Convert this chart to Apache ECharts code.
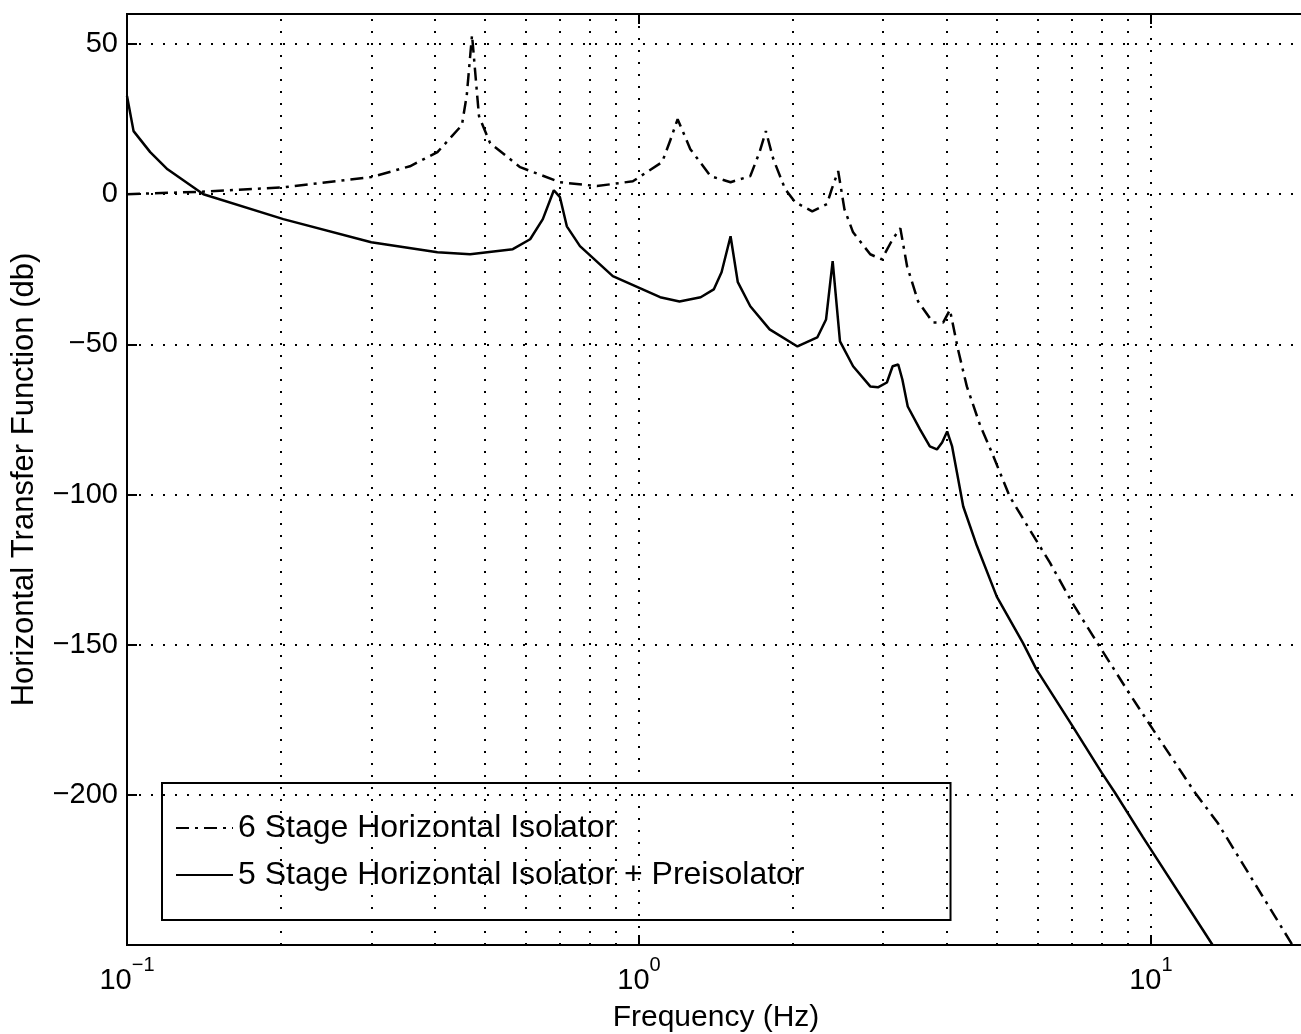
<!DOCTYPE html>
<html>
<head>
<meta charset="utf-8">
<title>Horizontal Transfer Function</title>
<script src="https://cdn.jsdelivr.net/npm/echarts@6/dist/echarts.min.js"></script>
<style>
html, body { margin: 0; padding: 0; background: #fff; overflow: hidden; }
#main { width: 1306px; height: 1034px; }
</style>
</head>
<body>
<div id="main"></div>
<script>
// 6 stage horizontal isolator (dash-dot)
var freq6 = [0.1, 0.139, 0.202, 0.3, 0.357, 0.404, 0.451, 0.461, 0.472, 0.487, 0.512, 0.586, 0.701, 0.828, 0.973,
	1.11, 1.15, 1.19, 1.26, 1.38, 1.51, 1.65, 1.72, 1.77, 1.83, 1.93, 2.02, 2.18, 2.33, 2.38, 2.45, 2.52, 2.62, 2.83,
	2.98, 3.13, 3.24, 3.34, 3.51, 3.75, 3.93, 4.05, 4.2, 4.37, 4.64, 4.89, 5.3, 5.75, 6.35, 7.02, 7.85, 8.98, 10.1,
	12.2, 13.5, 18.9];
var db6 = [0, 0.8, 2.3, 5.7, 9.3, 14, 23, 33, 53, 26, 17, 9, 4, 2.7, 4.3,
	10.7, 17.7, 25, 15, 6, 4, 6, 14, 21, 11.7, 1.7, -2.7, -5.7, -3.3, 1.7, 7.7, -5, -12.7, -20,
	-21.7, -15, -11.3, -24, -35.7, -42.7, -42.7, -38.5, -51.7, -64, -77, -86, -100.7, -110.7, -122.7, -136, -149.3, -165, -178.3,
	-199.3, -209.3, -250];
// 5 stage horizontal isolator + preisolator (solid)
var freq5 = [0.1, 0.103, 0.111, 0.12, 0.141, 0.202, 0.3, 0.404, 0.468, 0.567, 0.613, 0.649, 0.682, 0.701, 0.723,
	0.767, 0.889, 1.1, 1.2, 1.32, 1.4, 1.45, 1.51, 1.56, 1.65, 1.8, 2.04, 2.23, 2.32, 2.39, 2.47, 2.62, 2.83, 2.93,
	3.05, 3.13, 3.21, 3.27, 3.35, 3.54, 3.7, 3.82, 3.91, 4.0, 4.09, 4.18, 4.3, 4.57, 5.0, 5.62, 5.98, 7.04, 8.02,
	8.51, 9.64, 13.2];
var db5 = [32.7, 21, 14, 8.3, 0, -8.3, -16, -19.3, -20, -18.3, -15, -8.3, 1.3, -1, -10.7,
	-17.3, -27.3, -34.3, -35.7, -34.3, -31.7, -26, -14, -29.3, -37.3, -45, -50.7, -47.7, -41.7, -22.3, -49, -57.3, -64, -64.3,
	-62.7, -57.3, -56.7, -61.7, -70.7, -78.3, -84, -85, -82.7, -79, -84, -92.7, -104, -117, -134, -149.3, -158.3, -177.3, -192.7,
	-199.3, -214, -250];
// minor (dotted) grid lines on the log axis
var minorFreqs = [0.2, 0.3, 0.4, 0.5, 0.6, 0.7, 0.8, 0.9, 2, 3, 4, 5, 6, 7, 8, 9];
var seriesNames = ['6 Stage Horizontal Isolator', '5 Stage Horizontal Isolator + Preisolator'];

var FONT = '"Liberation Sans", Arial, Helvetica, sans-serif';
var dotted = { type: [2, 10], width: 2, color: '#000' };

function pairs(xs, ys) {
	var out = [];
	for (var i = 0; i < xs.length; i++) {
		out.push([xs[i], ys[i]]);
	}
	return out;
}
function minus(s) {
	return String(s).replace('-', '\u2212');
}

var myChart = echarts.init(document.getElementById('main'), null, { renderer: 'canvas' });
var option = {
	animation: false,
	backgroundColor: '#fff',
	textStyle: { fontFamily: FONT, color: '#000' },
	grid: {
		left: 127, right: 1, top: 14, bottom: 89,
		outerBoundsMode: 'none',
		show: true, borderColor: '#000', borderWidth: 2
	},
	legend: {
		orient: 'vertical',
		left: 162, top: 783,
		padding: [29, 146, 29, 13],
		itemWidth: 57, itemHeight: 30, itemGap: 15,
		borderColor: '#000', borderWidth: 2,
		itemStyle: { color: 'rgba(0,0,0,0)', borderWidth: 0 },
		textStyle: { fontFamily: FONT, fontSize: 32, color: '#000', lineHeight: 30 },
		data: seriesNames
	},
	xAxis: [{
		type: 'log', logBase: 10, min: 0.1, max: 20,
		name: 'Frequency (Hz)', nameLocation: 'middle', nameGap: 58, nameMoveOverlap: false,
		nameTextStyle: { fontFamily: FONT, fontSize: 30, color: '#000' },
		axisLine: { show: true, onZero: false, lineStyle: { color: '#000', width: 2 } },
		axisTick: { inside: true, length: 10, lineStyle: { color: '#000', width: 2 } },
		axisLabel: {
			margin: 10,
			formatter: function(v) {
				var e = Math.round(Math.log(v) / Math.LN10);
				if (Math.abs(Math.pow(10, e) - v) > 1e-6 * v) return '';
				return '{b|10}{e|' + minus(e) + '}';
			},
			rich: {
				b: { fontFamily: FONT, fontSize: 29, color: '#000', lineHeight: 40, verticalAlign: 'bottom' },
				e: { fontFamily: FONT, fontSize: 20, color: '#000', lineHeight: 20, verticalAlign: 'top' }
			}
		},
		splitLine: { show: true, lineStyle: dotted }
	}, {
		type: 'log', logBase: 10, min: 0.1, max: 20, position: 'top',
		axisLine: { show: true, onZero: false, lineStyle: { color: '#000', width: 2 } },
		axisTick: { inside: true, length: 10, lineStyle: { color: '#000', width: 2 } },
		axisLabel: { show: false },
		splitLine: { show: false }
	}],
	yAxis: {
		type: 'value', min: -250, max: 60, interval: 50,
		name: 'Horizontal Transfer Function (db)', nameLocation: 'middle', nameGap: 87,
		nameTextStyle: { fontFamily: FONT, fontSize: 31, color: '#000' },
		axisLine: { show: true, onZero: false, lineStyle: { color: '#000', width: 2 } },
		axisTick: { inside: true, length: 10, lineStyle: { color: '#000', width: 2 } },
		axisLabel: {
			margin: 9, fontFamily: FONT, fontSize: 29, color: '#000',
			formatter: function(v) {
				if (v == -250 || v == 60) return '';
				return minus(v);
			}
		},
		splitLine: { show: true, lineStyle: dotted }
	},
	series: [{
		name: seriesNames[0],
		type: 'line',
		symbol: 'none',
		data: pairs(freq6, db6),
		lineStyle: { color: '#000', width: 2.5, type: [13, 6, 3, 6] },
		itemStyle: { color: '#000' },
		markLine: {
			silent: true,
			symbol: ['none', 'none'],
			label: { show: false },
			lineStyle: dotted,
			data: minorFreqs.map(function(f) { return { xAxis: f }; })
		},
		z: 3
	}, {
		name: seriesNames[1],
		type: 'line',
		symbol: 'none',
		data: pairs(freq5, db5),
		lineStyle: { color: '#000', width: 2.5, type: 'solid' },
		itemStyle: { color: '#000' },
		z: 3
	}]
};
myChart.setOption(option);
</script>
</body>
</html>
